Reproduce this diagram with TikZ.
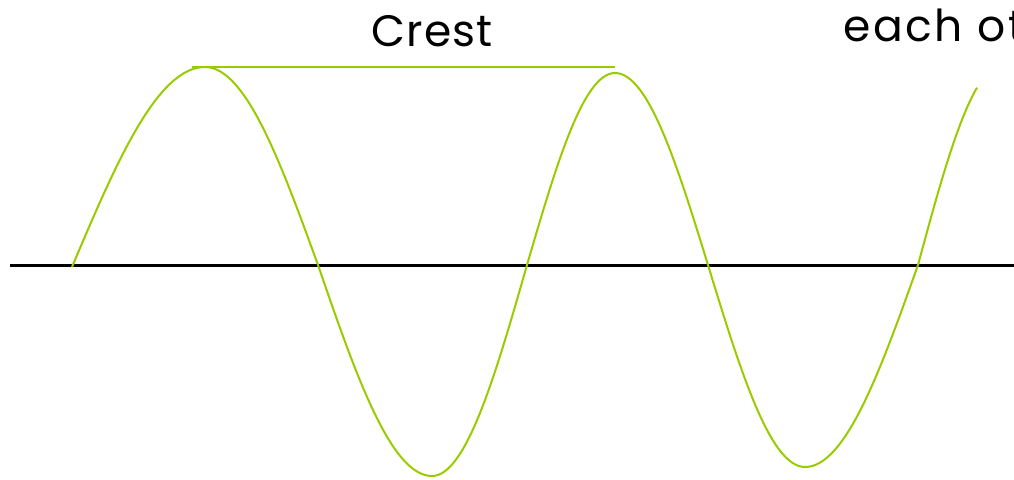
\documentclass[tikz,border=0pt]{standalone}
\usepackage{fontspec}
\setmainfont{Poppins}
\definecolor{wavegreen}{RGB}{153,204,0}
\tikzset{
  wave/.style={draw=wavegreen, line width=2pt},
  axisline/.style={draw=black, line width=3pt},
  label/.style={font=\fontsize{44}{52}\selectfont, text=black, inner sep=0pt, anchor=base}
}
\begin{document}
\begin{tikzpicture}[x=1pt,y=-1pt]
\useasboundingbox (0,0) rectangle (1014,479);
\clip (0,0) rectangle (1014,479);
% axis
\coordinate (axL) at (10,265);
\coordinate (axR) at (1014,265);
\draw[axisline] (axL) -- (axR);
% wave
\draw[wave] (72,267) sin (205,67) cos (318,265) sin (432,476) cos (527,265)
  sin (615,73) cos (708,265) sin (805,467) cos (918,265);
\draw[wave] plot[domain=0:59, samples=40, variable=\t] ({918+\t},{265-200*sin(90*\t/85)});
% crest line
\coordinate (crA) at (192,67);
\coordinate (crB) at (615,67);
\draw[wave] (crA) -- (crB);
% labels
\node[label] (crest) at (432,46) {\addfontfeature{LetterSpace=2}Crest};
\node[label, anchor=base west] (each) at (843,41) {\addfontfeature{LetterSpace=6}each ot};
\end{tikzpicture}
\end{document}
